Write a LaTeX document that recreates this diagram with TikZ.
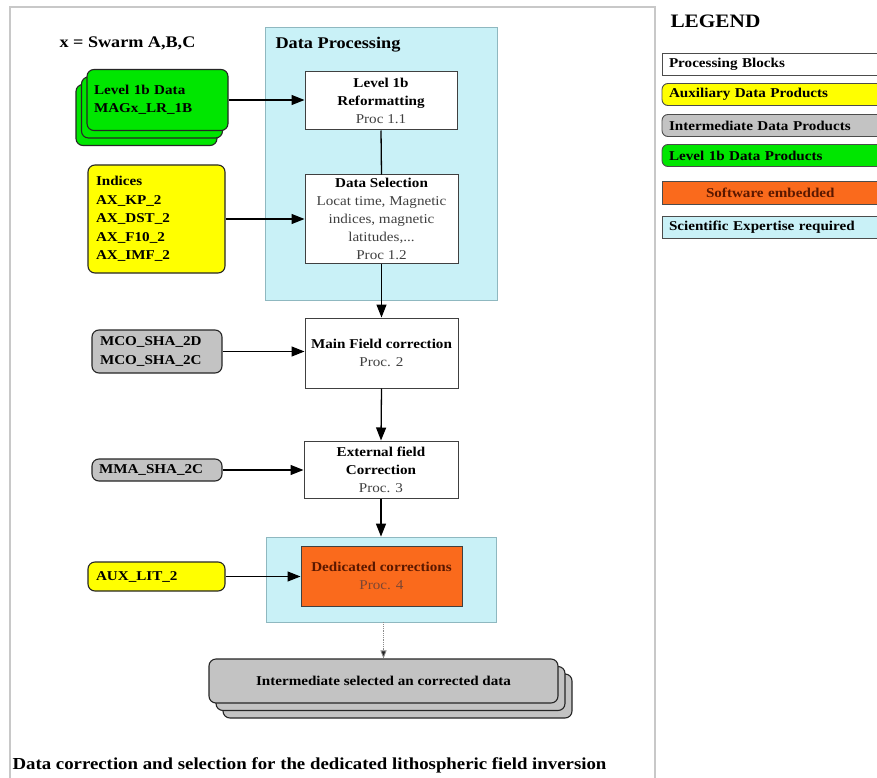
\documentclass[tikz,border=0pt]{standalone}
\usepackage{fontspec}
\setmainfont{Liberation Serif}[FakeStretch=1.12]
\usetikzlibrary{arrows.meta}
\definecolor{cyb}{HTML}{C9F1F7}
\definecolor{cyline}{HTML}{8FB8C0}
\definecolor{grn}{HTML}{00E600}
\definecolor{yel}{HTML}{FFFF00}
\definecolor{gry}{HTML}{C3C3C3}
\definecolor{org}{HTML}{FA6A1C}
\definecolor{frm}{HTML}{C8C8C8}
\definecolor{txtg}{HTML}{404040}
\definecolor{orgtxt}{HTML}{5A1800}
\begin{document}
\begin{tikzpicture}[x=1pt,y=-1pt,
  box/.style={font=\fontsize{13.5}{18}\selectfont, inner sep=0pt},
  proc/.style={box, draw=black!75, fill=white, line width=1pt, align=center},
  data/.style={box, draw=black!85, line width=1.1pt, rounded corners=7pt, align=left, font=\fontsize{13.5}{18.5}\selectfont\bfseries},
  panel/.style={draw=cyline, fill=cyb, line width=0.7pt, inner sep=0pt},
  leg/.style={box, draw=black!70, line width=0.9pt, minimum width=228, minimum height=22, text width=214, align=left, font=\fontsize{13.5}{16}\selectfont\bfseries},
  arr/.style={-{Triangle[length=13pt,width=10pt]}, line width=1.3pt}
]
\useasboundingbox (0,0) rectangle (877,778);
\fill[white] (0,0) rectangle (877,778);
% outer frame
\draw[frm, line width=1.5pt] (10,800) -- (10,7) -- (655,7) -- (655,800);

\node[anchor=west, font=\fontsize{16.2}{18}\selectfont\bfseries] (swarm) at (56,43) {x = Swarm A,B,C};

% panels
\node[panel, minimum width=232, minimum height=273] (dp) at (381,163.5) {};
\node[anchor=west, font=\fontsize{16.3}{18}\selectfont\bfseries] (dptitle) at (272,45) {Data Processing};
\node[panel, minimum width=230, minimum height=85] (cy2) at (381,579.5) {};

% processing blocks
\node[proc, minimum width=152, minimum height=58] (reform) at (381,101)
  {\textbf{Level 1b}\\\textbf{Reformatting}\\\textcolor{txtg}{Proc 1.1}};
\node[proc, minimum width=153, minimum height=88] (sel) at (381.5,219)
  {\textbf{Data Selection}\\\textcolor{txtg}{Locat time, Magnetic}\\\textcolor{txtg}{indices, magnetic}\\\textcolor{txtg}{latitudes,...}\\\textcolor{txtg}{Proc 1.2}};
\node[proc, minimum width=153, minimum height=70] (mainf) at (381.5,353)
  {\textbf{Main Field correction}\\\textcolor{txtg}{Proc. 2}};
\node[proc, minimum width=154, minimum height=57] (ext) at (381,469.5)
  {\textbf{External field}\\\textbf{Correction}\\\textcolor{txtg}{Proc. 3}};
\node[proc, fill=org, minimum width=161, minimum height=60] (ded) at (381.5,576)
  {\textcolor{orgtxt}{\textbf{Dedicated corrections}}\\\textcolor{orgtxt!80}{Proc. 4}};

% data products
\node[data, fill=grn, minimum width=141, minimum height=61] (g3) at (146.5,115) {};
\node[data, fill=grn, minimum width=141, minimum height=61] (g2) at (152,107.5) {};
\node[data, fill=grn, minimum width=141, minimum height=61, text width=127] (g1) at (157.5,100)
  {Level 1b Data\\MAGx\_LR\_1B\\[4pt]};
\node[data, fill=yel, minimum width=137, minimum height=108, text width=121] (ind) at (156.5,219)
  {Indices\\AX\_KP\_2\\AX\_DST\_2\\AX\_F10\_2\\AX\_IMF\_2};
\node[data, fill=gry, minimum width=130, minimum height=43, text width=114] (mco) at (157,351.5)
  {MCO\_SHA\_2D\\MCO\_SHA\_2C};
\node[data, fill=gry, minimum width=130, minimum height=22, text width=116] (mma) at (157,470)
  {MMA\_SHA\_2C};
\node[data, fill=yel, minimum width=137, minimum height=29, text width=121] (aux) at (156.5,576.5)
  {AUX\_LIT\_2};

% output stack
\node[data, fill=gry, minimum width=349, minimum height=44] (gs3) at (397.5,696) {};
\node[data, fill=gry, minimum width=349, minimum height=44] (gs2) at (390.5,688.5) {};
\node[data, fill=gry, minimum width=349, minimum height=44, align=center] (gs1) at (383.5,681)
  {Intermediate selected an corrected data};

% connectors
\draw[arr] (g1.east) -- (g1.east -| reform.west);
\draw[arr] (ind.east) -- (ind.east -| sel.west);
\draw[line width=1.3pt] (reform.south) -- (sel.north);
\draw[arr] (sel.south) -- (mainf.north);
\draw[arr] (mco.east) -- (mco.east -| mainf.west);
\draw[arr] (mainf.south) -- (ext.north);
\draw[arr] (mma.east) -- (mma.east -| ext.west);
\draw[arr] (ext.south) -- (ext.south |- cy2.north);
\draw[arr] (aux.east) -- (aux.east -| ded.west);
\draw[black!45, densely dotted, line width=0.8pt, -{Triangle[length=8pt,width=6pt,fill=black!85]}] (cy2.south -| gs1.north) -- (gs1.north);

% caption
\node[anchor=west, font=\fontsize{16.8}{18}\selectfont\bfseries] (caption) at (9,765)
  {Data correction and selection for the dedicated lithospheric field inversion};

% legend
\node[anchor=west, font=\fontsize{19}{20}\selectfont\bfseries] (legtitle) at (667,21) {LEGEND};
\node[leg, fill=white] (l1) at (776,64) {Processing Blocks};
\node[leg, fill=yel, rounded corners=6pt] (l2) at (776,94.5) {Auxiliary Data Products};
\node[leg, fill=gry, rounded corners=6pt] (l3) at (776,125.5) {Intermediate Data Products};
\node[leg, fill=grn, rounded corners=6pt] (l4) at (776,155.5) {Level 1b Data Products};
\node[leg, fill=org, minimum height=23] (l5) at (776,192.5) {\hspace*{37pt}\textcolor{orgtxt}{Software embedded}};
\node[leg, fill=cyb] (l6) at (776,227) {Scientific Expertise required};
\end{tikzpicture}
\end{document}
